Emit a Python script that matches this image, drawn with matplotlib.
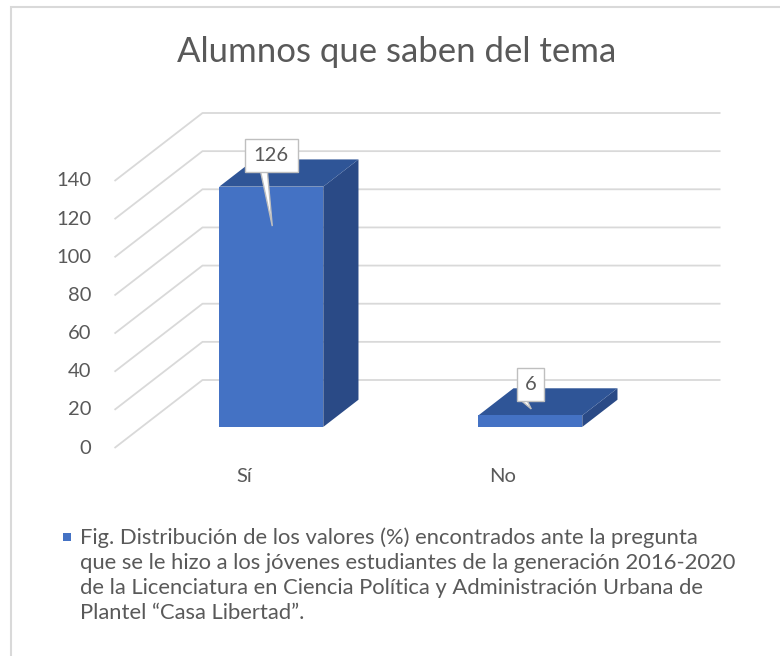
import matplotlib
matplotlib.use('Agg')
import matplotlib.pyplot as plt
from matplotlib.patches import Polygon, Rectangle

plt.rcParams['font.family'] = ['Lato', 'DejaVu Sans']

# data
categories = ['Sí', 'No']
values = [126, 6]
yticks = [0, 20, 40, 60, 80, 100, 120, 140]
title = 'Alumnos que saben del tema'
caption = ('Fig. Distribución de los valores (%) encontrados ante la pregunta\n'
           'que se le hizo a los jóvenes estudiantes de la generación 2016-2020\n'
           'de la Licenciatura en Ciencia Política y Administración Urbana de\n'
           'Plantel “Casa Libertad”.')

# styles
W, H = 780, 656
text_c = '#595959'
grid_c = '#D9D9D9'
front_c = '#4472C4'
top_c = '#2F5597'
side_c = '#2A4A86'
pointer_len = [54, 8]  # px below callout box

# scale: px per category / px per value unit, origin of front plane
x_px = 259.0
y_px = 267.0 / 140
ox, oy = 244, 448
DX = 88 / x_px  # full depth, in x units
DY = 68 / y_px  # full depth, in value units
f0, fd = 0.31, 0.40  # bar start depth / bar depth (fraction)
bw = 104 / x_px

fig = plt.figure(figsize=(W / 100, H / 100), dpi=100)
ax = fig.add_axes([0, 0, 1, 1])
ax.set_xlim(-ox / x_px, (W - ox) / x_px)
ax.set_ylim(-(H - oy) / y_px, oy / y_px)
ax.axis('off')

# outer frame
fig.patches.append(Rectangle((11 / W, -0.1), 1.2, 1.1 - 7 / H, fill=False,
                             ec=grid_c, lw=1.5, transform=fig.transFigure))

# gridlines: oblique floor-to-wall then back wall
for v in yticks:
    ax.plot([-0.5, -0.5 + DX, 1.5 + DX], [v, v + DY, v + DY],
            color=grid_c, lw=1.3, zorder=1, solid_capstyle='butt')
    ax.text(-0.5 - 23 / x_px, v, str(v), ha='right', va='center',
            fontsize=14.5, color=text_c)

for i, (cat, val) in enumerate(zip(categories, values)):
    ax.text(i, -29 / y_px, cat, ha='center', va='center', fontsize=14.5, color=text_c)

    xl = i - bw / 2 + f0 * DX
    xr = xl + bw
    y0 = f0 * DY
    y1 = y0 + val
    ddx, ddy = fd * DX, fd * DY
    ax.add_patch(Polygon([(xr, y0), (xr + ddx, y0 + ddy), (xr + ddx, y1 + ddy), (xr, y1)],
                         closed=True, fc=side_c, ec='none', zorder=2))
    ax.add_patch(Polygon([(xl, y1), (xr, y1), (xr + ddx, y1 + ddy), (xl + ddx, y1 + ddy)],
                         closed=True, fc=top_c, ec='none', zorder=2))
    ax.add_patch(Rectangle((xl, y0), bw, val, fc=front_c, ec='none', zorder=3))

    # callout
    cx = (xl + xr) / 2
    cy = y1 + 31 / y_px
    bwid = (14 + 13 * len(str(val))) / x_px
    bh = 33 / y_px
    bot = cy - bh / 2
    tip = bot - pointer_len[i] / y_px
    ax.add_patch(Polygon([(cx - 11 / x_px, bot + 2 / y_px), (cx - 4 / x_px, bot + 2 / y_px),
                          (cx + 1 / x_px, tip)],
                         closed=True, fc='white', ec='#BFBFBF', lw=1, zorder=4))
    ax.add_patch(Rectangle((cx - bwid / 2, bot), bwid, bh, fc='white', ec='#BFBFBF',
                           lw=1, zorder=5))
    ax.text(cx, cy, str(val), ha='center', va='center', fontsize=14.5, color=text_c, zorder=6)

fig.text(397 / W, 1 - 52 / H, title, ha='center', va='center', fontsize=25, color=text_c)

# legend-like caption
fig.patches.append(Rectangle((63 / W, 1 - 541 / H), 8 / W, 8 / H, fc=front_c, ec='none',
                             transform=fig.transFigure))
fig.text(80 / W, 1 - 527 / H, caption, ha='left', va='top', fontsize=15.8,
         color=text_c, linespacing=1.32)

fig.savefig('out.png', dpi=100)
